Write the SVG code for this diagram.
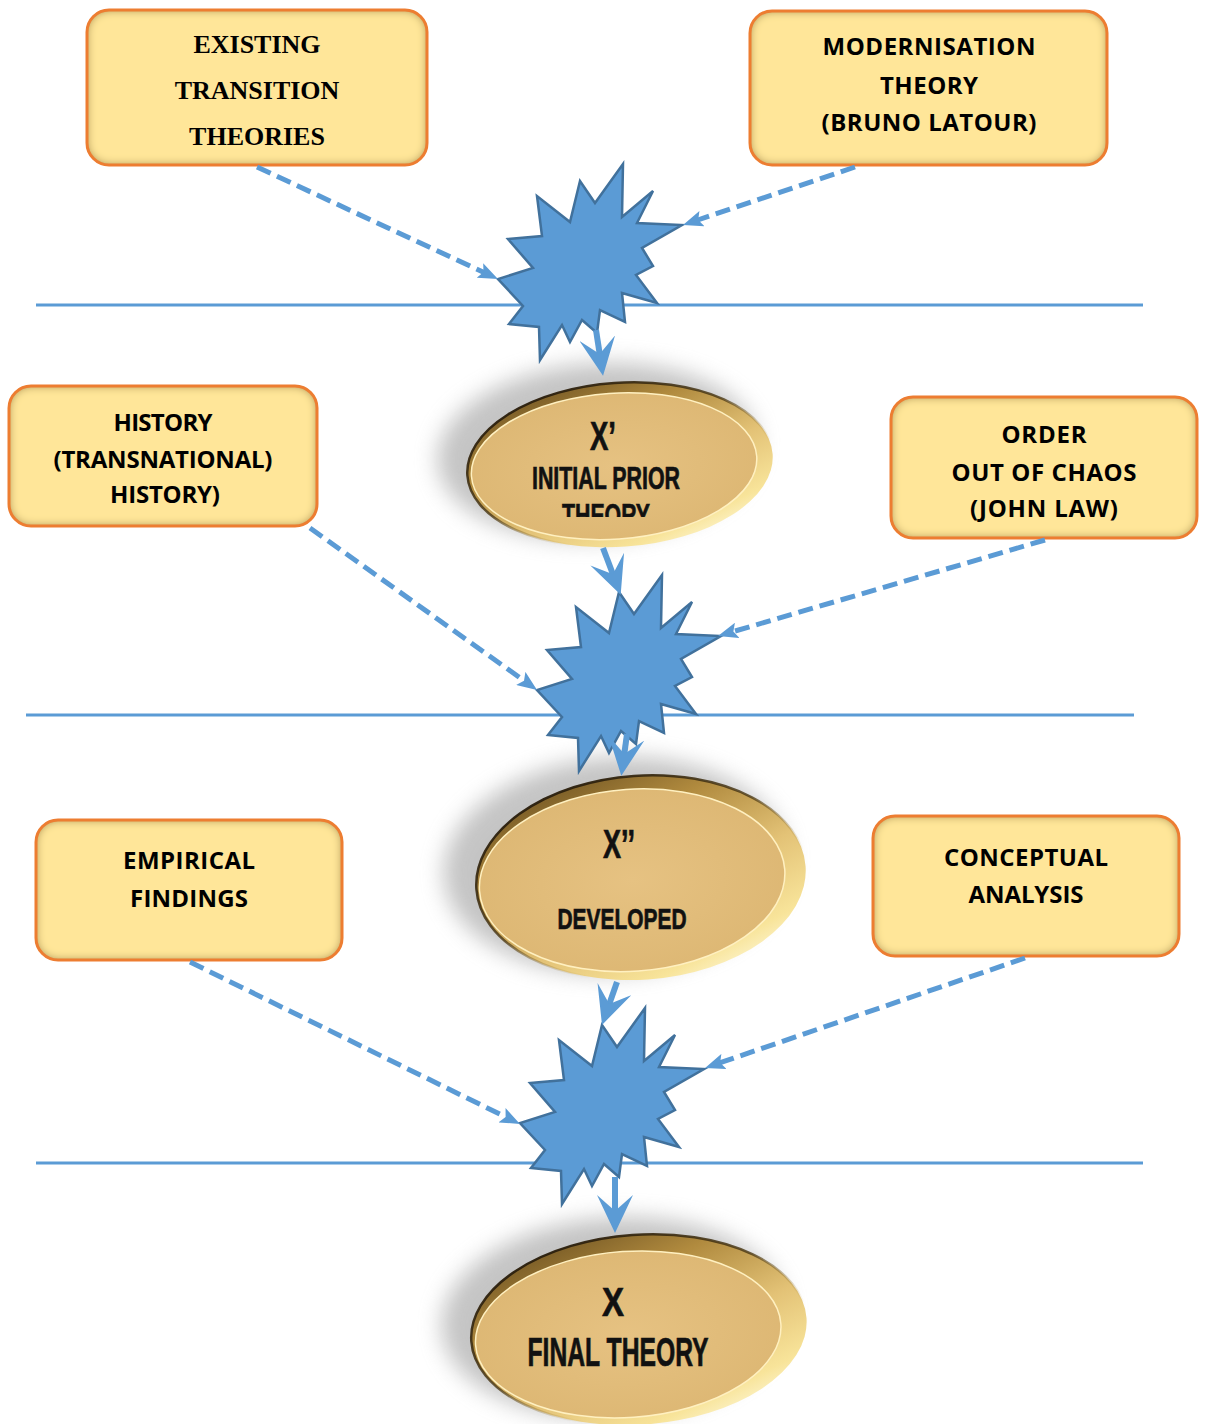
<svg xmlns="http://www.w3.org/2000/svg" width="1207" height="1424" viewBox="0 0 1207 1424">
  <style>
    .box{fill:#FFE699}
    .edge{fill:none;stroke:#ED7D31;stroke-width:3}
    .serif{font-family:"Liberation Serif","Times New Roman",serif;font-weight:bold;font-size:26px;fill:#000;text-anchor:middle}
    .sans{font-family:"Open Sans","Liberation Sans",Arial,sans-serif;font-weight:bold;font-size:24px;fill:#000;text-anchor:middle}
    .cond{font-family:"Liberation Sans",Arial,sans-serif;font-weight:bold;fill:#111;stroke:#111;stroke-width:0.7;text-anchor:middle}
    .rule{stroke:#5B9BD5;stroke-width:3}
    .dash{fill:none;stroke:#5B9BD5;stroke-width:5;stroke-dasharray:15 7;marker-end:url(#dashHead)}
    .solid{fill:none;stroke:#5B9BD5;stroke-width:6;marker-end:url(#bigHead)}
    .star{fill:#5B9BD5;stroke:#41719C;stroke-width:2.5;stroke-linejoin:miter}
    .haze{fill:#8a8a8a;opacity:0.5;filter:url(#blur)}
    .rim{fill:url(#rimGrad);stroke:url(#rimLine);stroke-width:2.5}
    .face{fill:url(#faceGrad);stroke:#fff0c0;stroke-width:1.5}
  </style>
  <defs>
    <!-- soft darkening along the inside of each box -->
    <filter id="inset" x="-5%" y="-5%" width="110%" height="110%">
      <feGaussianBlur in="SourceAlpha" stdDeviation="5" result="soft"/>
      <feComposite in="SourceAlpha" in2="soft" operator="arithmetic" k1="0" k2="1" k3="-1" k4="0" result="rimAlpha"/>
      <feFlood flood-color="#8a6a18" flood-opacity="1"/>
      <feComposite in2="rimAlpha" operator="in" result="shade"/>
      <feMerge><feMergeNode in="SourceGraphic"/><feMergeNode in="shade"/></feMerge>
    </filter>
    <filter id="blur" x="-30%" y="-30%" width="160%" height="160%">
      <feGaussianBlur stdDeviation="11"/>
    </filter>
    <linearGradient id="rimGrad" x1="0.15" y1="0" x2="0.85" y2="1">
      <stop offset="0" stop-color="#6b5020"/>
      <stop offset="0.3" stop-color="#b08a3e"/>
      <stop offset="0.6" stop-color="#e3c276"/>
      <stop offset="0.85" stop-color="#f8e49a"/>
      <stop offset="1" stop-color="#fffbe2"/>
    </linearGradient>
    <linearGradient id="rimLine" x1="0.1" y1="0" x2="0.9" y2="1">
      <stop offset="0" stop-color="#20160a"/>
      <stop offset="0.45" stop-color="#4a3814" stop-opacity="0.8"/>
      <stop offset="0.7" stop-color="#c9a552" stop-opacity="0"/>
    </linearGradient>
    <radialGradient id="faceGrad" cx="0.5" cy="0.5" r="0.6">
      <stop offset="0" stop-color="#E6C282"/>
      <stop offset="1" stop-color="#DCB672"/>
    </radialGradient>
    <clipPath id="cutTheory"><rect x="450" y="380" width="330" height="137"/></clipPath>
    <marker id="dashHead" markerUnits="userSpaceOnUse" viewBox="0 0 20 16" markerWidth="20" markerHeight="16" refX="10" refY="8" orient="auto">
      <path d="M0,0 L20,8 L0,16 L4,8 z" fill="#5B9BD5"/>
    </marker>
    <marker id="bigHead" markerUnits="userSpaceOnUse" viewBox="0 0 38 36" markerWidth="38" markerHeight="36" refX="18" refY="18" orient="auto">
      <path d="M0,0 L38,18 L0,36 L16,18 z" fill="#5B9BD5"/>
    </marker>
    <path id="burst" d="M623,164 L622,217 L653,191 L637,223 L682,225 L642,248 L653,266 L636,275 L657,303 L622,293 L625,322 L600,310 L597,333 L582,320 L570,342 L562,325 L540,360 L539,327 L509,324 L523,306 L498,279 L533,268 L508,239 L542,236 L537,196 L570,222 L580,181 L595,203 Z"/>
  </defs>

  <rect width="1207" height="1424" fill="#fff"/>

  <!-- stage separators -->
  <g id="separators">
    <line class="rule" x1="36" y1="305" x2="1143" y2="305"/>
    <line class="rule" x1="26" y1="715" x2="1134" y2="715"/>
    <line class="rule" x1="36" y1="1163" x2="1143" y2="1163"/>
  </g>

  <!-- source boxes -->
  <g id="existing-transition-theories">
    <rect class="box" filter="url(#inset)" x="87" y="10" width="340" height="155" rx="22"/>
    <rect class="edge" x="87" y="10" width="340" height="155" rx="22"/>
    <text class="serif" x="257" y="53">EXISTING</text>
    <text class="serif" x="257" y="99">TRANSITION</text>
    <text class="serif" x="257" y="145">THEORIES</text>
  </g>
  <g id="modernisation-theory">
    <rect class="box" filter="url(#inset)" x="750" y="11" width="357" height="154" rx="22"/>
    <rect class="edge" x="750" y="11" width="357" height="154" rx="22"/>
    <text class="sans" x="929" y="55" textLength="213">MODERNISATION</text>
    <text class="sans" x="929" y="94" textLength="98">THEORY</text>
    <text class="sans" x="929" y="131" textLength="215">(BRUNO LATOUR)</text>
  </g>
  <g id="history">
    <rect class="box" filter="url(#inset)" x="9" y="386" width="308" height="140" rx="22"/>
    <rect class="edge" x="9" y="386" width="308" height="140" rx="22"/>
    <text class="sans" x="163" y="431" textLength="99">HISTORY</text>
    <text class="sans" x="163" y="468" textLength="219">(TRANSNATIONAL)</text>
    <text class="sans" x="165" y="503" textLength="110">HISTORY)</text>
  </g>
  <g id="order-out-of-chaos">
    <rect class="box" filter="url(#inset)" x="891" y="397" width="306" height="141" rx="22"/>
    <rect class="edge" x="891" y="397" width="306" height="141" rx="22"/>
    <text class="sans" x="1044" y="443" textLength="85">ORDER</text>
    <text class="sans" x="1044" y="481" textLength="185">OUT OF CHAOS</text>
    <text class="sans" x="1044" y="517" textLength="148">(JOHN LAW)</text>
  </g>
  <g id="empirical-findings">
    <rect class="box" filter="url(#inset)" x="36" y="820" width="306" height="140" rx="22"/>
    <rect class="edge" x="36" y="820" width="306" height="140" rx="22"/>
    <text class="sans" x="189" y="869" textLength="132">EMPIRICAL</text>
    <text class="sans" x="189" y="907" textLength="118">FINDINGS</text>
  </g>
  <g id="conceptual-analysis">
    <rect class="box" filter="url(#inset)" x="873" y="816" width="306" height="140" rx="22"/>
    <rect class="edge" x="873" y="816" width="306" height="140" rx="22"/>
    <text class="sans" x="1026" y="866" textLength="164">CONCEPTUAL</text>
    <text class="sans" x="1026" y="903" textLength="115">ANALYSIS</text>
  </g>

  <!-- theory discs -->
  <g id="initial-prior-theory">
    <g transform="rotate(-4 617 465)">
      <ellipse class="haze" cx="598" cy="450" rx="160" ry="88"/>
      <ellipse class="rim" cx="620" cy="465" rx="153" ry="82"/>
      <ellipse class="face" cx="614" cy="466" rx="143" ry="73"/>
    </g>
    <text class="cond" x="603" y="450" font-size="40" textLength="26" lengthAdjust="spacingAndGlyphs">X’</text>
    <text class="cond" x="606" y="489" font-size="31" textLength="148" lengthAdjust="spacingAndGlyphs">INITIAL PRIOR</text>
    <text class="cond" x="606" y="526" font-size="31" textLength="88" lengthAdjust="spacingAndGlyphs" clip-path="url(#cutTheory)">THEORY</text>
  </g>
  <g id="developed">
    <g transform="rotate(-4 636 878)">
      <ellipse class="haze" cx="616" cy="864" rx="172" ry="108"/>
      <ellipse class="rim" cx="641" cy="878" rx="165" ry="102"/>
      <ellipse class="face" cx="632" cy="880" rx="153" ry="91"/>
    </g>
    <text class="cond" x="619" y="858" font-size="40" textLength="32" lengthAdjust="spacingAndGlyphs">X’’</text>
    <text class="cond" x="622" y="929" font-size="30" textLength="129" lengthAdjust="spacingAndGlyphs">DEVELOPED</text>
  </g>
  <g id="final-theory">
    <g transform="rotate(-4 634 1331)">
      <ellipse class="haze" cx="614" cy="1316" rx="172" ry="100"/>
      <ellipse class="rim" cx="639" cy="1330" rx="168" ry="95"/>
      <ellipse class="face" cx="628" cy="1334" rx="153" ry="83"/>
    </g>
    <text class="cond" x="613" y="1316" font-size="40" textLength="22" lengthAdjust="spacingAndGlyphs">X</text>
    <text class="cond" x="618" y="1366" font-size="40" textLength="181" lengthAdjust="spacingAndGlyphs">FINAL THEORY</text>
  </g>

  <!-- convergence bursts -->
  <g id="burst-1"><use href="#burst" class="star"/></g>
  <g id="burst-2"><use href="#burst" class="star" transform="translate(39 411)"/></g>
  <g id="burst-3"><use href="#burst" class="star" transform="translate(22 844)"/></g>

  <!-- connectors -->
  <g id="connectors">
    <path class="dash" d="M257,167 L488.9,274.8"/>
    <path class="dash" d="M855,167 L692.5,221.8"/>
    <path class="dash" d="M310,528 L528.9,684.2"/>
    <path class="dash" d="M1045,540 L727.6,633.2"/>
    <path class="dash" d="M190,962 L511,1119.6"/>
    <path class="dash" d="M1025,958 L714.5,1064.7"/>
    <path class="solid" d="M596,330 L600,356"/>
    <path class="solid" d="M603,548 L613.6,576"/>
    <path class="solid" d="M627,734 L624,756"/>
    <path class="solid" d="M617,982 L608.6,1006"/>
    <path class="solid" d="M615,1177 L615,1213"/>
  </g>
</svg>
